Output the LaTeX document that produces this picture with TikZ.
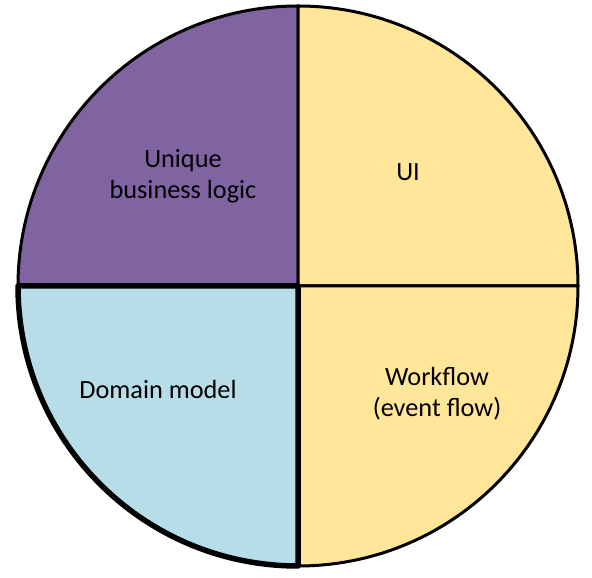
\documentclass[tikz,border=0pt]{standalone}
\usepackage{fontspec}
\setmainfont{Carlito}
\definecolor{qpurple}{HTML}{8064A2}
\definecolor{qyellow}{HTML}{FFE699}
\definecolor{qblue}{HTML}{B7DEE8}
\begin{document}
\begin{tikzpicture}[x=1pt,y=1pt,
  quad/.style={draw=black,line width=3pt,line join=round},
  label/.style={align=center,font=\fontsize{26.3}{31}\selectfont,text=black}]
\useasboundingbox (0,0) rectangle (592,578);
\coordinate (c) at (298,292);
% four quarters of the disc
\filldraw[quad,fill=qpurple] (c) -- ++(-280,0) arc[start angle=180,end angle=90,radius=280] -- cycle;
\filldraw[quad,fill=qyellow] (c) -- ++(0,280) arc[start angle=90,end angle=0,radius=280] -- cycle;
\filldraw[quad,fill=qyellow] (c) -- ++(280,0) arc[start angle=0,end angle=-90,radius=280] -- cycle;
\filldraw[quad,fill=qblue,line width=5.5pt] (c) -- ++(0,-280) arc[start angle=-90,end angle=-180,radius=280] -- cycle;
% quarter labels
\node[label] (logic) at (183,402) {Unique\\business logic};
\node[label] (ui) at (408,406) {UI};
\node[label] (domain) at (158,189) {Domain model};
\node[label] (flow) at (437,184) {Workflow\\(event flow)};
\end{tikzpicture}
\end{document}
